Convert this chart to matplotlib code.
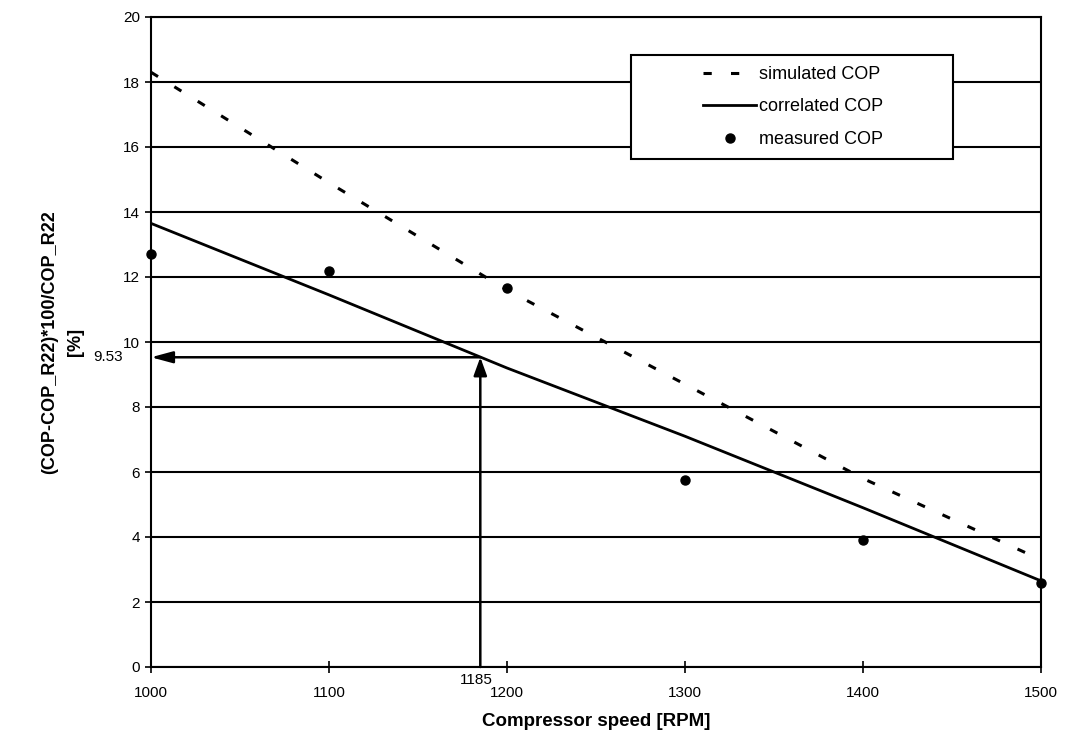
import matplotlib
matplotlib.use("Agg")
import matplotlib.pyplot as plt
from matplotlib.lines import Line2D
from matplotlib.patches import Rectangle

plt.rcParams['font.family'] = ['Liberation Sans', 'DejaVu Sans']

speed = [1000, 1100, 1200, 1300, 1400, 1500]
simulated = [18.3, 14.9, 11.6, 8.7, 5.8, 3.3]
correlated = [13.65, 11.45, 9.2, 7.1, 4.9, 2.65]
measured = [12.7, 12.2, 11.65, 5.75, 3.9, 2.6]
x_ticks = [1000, 1100, 1200, 1300, 1400, 1500]
y_ticks = [0, 2, 4, 6, 8, 10, 12, 14, 16, 18, 20]
read_x = 1185
read_y = 9.53

fig = plt.figure(figsize=(10.65, 7.4), dpi=100)
ax = fig.add_axes([151/1065, 73/740, 890/1065, 650/740])

ax.set_xlim(1000, 1500)
ax.set_ylim(0, 20)
for v in y_ticks:
    ax.axhline(v, color='black', lw=1.5, zorder=1)

DASH = (2.7, 6.3)
ax.plot(speed, simulated, color='black', lw=2.2, dashes=DASH, zorder=3)
ax.plot(speed, correlated, color='black', lw=2.0, zorder=3)
ax.plot(speed, measured, 'o', color='black', ms=6.5, zorder=4, clip_on=False)

# reading arrows
ax.annotate('', xy=(1000, read_y), xytext=(read_x, read_y),
            arrowprops=dict(arrowstyle='-|>,head_length=1.3,head_width=0.35',
                            color='black', lw=1.8, shrinkA=0, shrinkB=0), zorder=5)
ax.annotate('', xy=(read_x, read_y), xytext=(read_x, 0),
            arrowprops=dict(arrowstyle='-|>,head_length=1.1,head_width=0.4',
                            color='black', lw=1.8, shrinkA=0, shrinkB=0), zorder=5)
ax.annotate(f'{read_y:.2f}', xy=(1000, read_y), xytext=(-20, 0),
            textcoords='offset points', ha='right', va='center', fontsize=11)
ax.annotate(f'{read_x}', xy=(read_x, 0), xytext=(-3, -4),
            textcoords='offset points', ha='center', va='top', fontsize=11)

ax.set_xticks(x_ticks)
ax.set_yticks(y_ticks)
ax.tick_params(axis='x', direction='inout', length=8, width=1.2, pad=10, labelsize=11)
ax.tick_params(axis='y', direction='out', length=4, width=1.2, pad=4, labelsize=11)
for s in ax.spines.values():
    s.set_linewidth(1.5)

ax.set_xlabel('Compressor speed [RPM]', fontsize=13.5, fontweight='bold', labelpad=9)
ax.set_ylabel('(COP-COP_R22)*100/COP_R22\n[%]', fontsize=13, fontweight='bold',
              linespacing=1.7)
ax.yaxis.set_label_coords((84-151)/890, 0.5)

# legend frame
x0, x1 = (631-151)/890, (953-151)/890
y0, y1 = (667-159)/650, (667-55)/650
ax.add_patch(Rectangle((x0, y0), x1-x0, y1-y0, transform=ax.transAxes,
                       facecolor='white', edgecolor='black', lw=1.5, zorder=9))

handles = [Line2D([], [], color='black', lw=2.2, dashes=DASH),
           Line2D([], [], color='black', lw=2.0),
           Line2D([], [], color='black', marker='o', ls='none', ms=6.5)]
labels = ['simulated COP', 'correlated COP', 'measured COP']
leg = ax.legend(handles, labels, loc='center',
                bbox_to_anchor=((793.5-151)/890, (y0+y1)/2),
                fontsize=13, frameon=False,
                handlelength=2.9, handletextpad=0.2, labelspacing=0.85,
                borderpad=0, borderaxespad=0)
leg.set_zorder(10)

fig.savefig('out.png', dpi=100)
